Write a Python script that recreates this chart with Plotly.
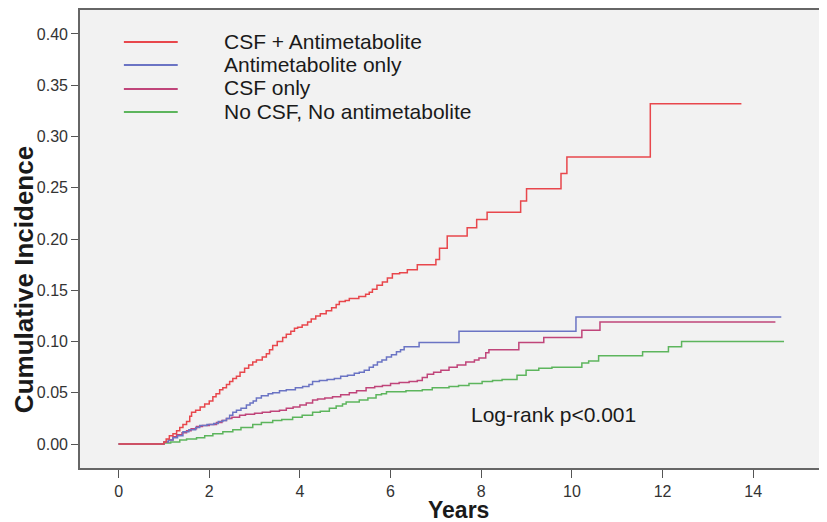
import plotly.graph_objects as go

# ---- data ----
series_names = ["CSF + Antimetabolite", "Antimetabolite only", "CSF only", "No CSF, No antimetabolite"]

red_t = [0, 1.0, 1.05, 1.12, 1.2, 1.28, 1.35, 1.42, 1.5, 1.57, 1.61, 1.7, 1.8, 1.9, 2.0, 2.08, 2.15, 2.23,
         2.3, 2.38, 2.45, 2.52, 2.6, 2.68, 2.78, 2.87, 2.96, 3.04, 3.17, 3.26, 3.33, 3.4, 3.5, 3.62, 3.7,
         3.8, 3.88, 3.95, 4.05, 4.17, 4.25, 4.35, 4.45, 4.58, 4.7, 4.8, 4.87, 5.0, 5.09, 5.3, 5.45, 5.53,
         5.6, 5.7, 5.82, 5.93, 6.04, 6.2, 6.37, 6.59, 7.0, 7.08, 7.25, 7.69, 7.9, 8.13, 8.87, 9.0, 9.76,
         9.89, 11.73, 13.74]
red_v = [0, 0.002, 0.005, 0.008, 0.010, 0.013, 0.016, 0.019, 0.022, 0.027, 0.031, 0.033, 0.036, 0.039,
         0.042, 0.046, 0.049, 0.053, 0.055, 0.058, 0.061, 0.064, 0.066, 0.070, 0.074, 0.077, 0.080, 0.082,
         0.085, 0.088, 0.092, 0.096, 0.100, 0.104, 0.107, 0.110, 0.113, 0.114, 0.116, 0.119, 0.122, 0.125,
         0.127, 0.130, 0.133, 0.136, 0.139, 0.140, 0.142, 0.144, 0.146, 0.148, 0.151, 0.155, 0.158, 0.162,
         0.166, 0.167, 0.170, 0.175, 0.180, 0.191, 0.203, 0.211, 0.219, 0.226, 0.237, 0.249, 0.264, 0.280,
         0.332, 0.332]

blue_t = [0, 1.0, 1.1, 1.2, 1.3, 1.42, 1.55, 1.7, 1.79, 1.95, 2.1, 2.2, 2.3, 2.38, 2.45, 2.52, 2.6, 2.7,
          2.82, 2.9, 2.97, 3.04, 3.15, 3.3, 3.4, 3.55, 3.7, 3.9, 4.06, 4.2, 4.28, 4.43, 4.6, 4.76, 4.9, 5.05,
          5.2, 5.31, 5.42, 5.53, 5.62, 5.71, 5.81, 5.91, 6.02, 6.13, 6.22, 6.3, 6.63, 7.51, 10.09, 14.62]
blue_v = [0, 0.002, 0.004, 0.006, 0.008, 0.012, 0.014, 0.016, 0.018, 0.019, 0.020, 0.022, 0.023, 0.025,
          0.028, 0.031, 0.033, 0.035, 0.038, 0.040, 0.042, 0.045, 0.047, 0.049, 0.050, 0.052, 0.053, 0.055,
          0.056, 0.058, 0.061, 0.062, 0.063, 0.064, 0.066, 0.067, 0.069, 0.070, 0.072, 0.075, 0.077, 0.080,
          0.082, 0.085, 0.087, 0.090, 0.092, 0.095, 0.099, 0.110, 0.124, 0.124]

purple_t = [0, 1.0, 1.1, 1.2, 1.28, 1.4, 1.5, 1.6, 1.72, 1.85, 2.0, 2.16, 2.28, 2.38, 2.5, 2.67, 2.8, 3.0,
            3.17, 3.35, 3.55, 3.7, 3.85, 4.0, 4.14, 4.28, 4.39, 4.55, 4.72, 4.9, 5.09, 5.25, 5.46, 5.65,
            5.82, 6.0, 6.19, 6.41, 6.59, 6.7, 6.81, 6.95, 7.11, 7.29, 7.47, 7.66, 7.85, 7.95, 8.1, 8.17,
            8.83, 9.38, 10.22, 10.62, 14.49]
purple_v = [0, 0.002, 0.004, 0.007, 0.009, 0.011, 0.013, 0.015, 0.017, 0.018, 0.019, 0.021, 0.023, 0.025,
            0.026, 0.028, 0.029, 0.030, 0.031, 0.032, 0.033, 0.035, 0.036, 0.038, 0.040, 0.043, 0.044,
            0.045, 0.046, 0.048, 0.050, 0.052, 0.055, 0.056, 0.057, 0.059, 0.060, 0.061, 0.062, 0.065,
            0.068, 0.070, 0.072, 0.075, 0.077, 0.080, 0.082, 0.084, 0.089, 0.092, 0.099, 0.104, 0.111,
            0.119, 0.119]

green_t = [0, 1.0, 1.15, 1.35, 1.5, 1.72, 1.9, 2.08, 2.3, 2.52, 2.7, 2.96, 3.15, 3.4, 3.6, 3.84, 4.05,
           4.28, 4.45, 4.65, 4.8, 4.94, 5.02, 5.31, 5.5, 5.68, 5.8, 5.91, 6.34, 6.7, 6.92, 7.29, 7.5, 7.73,
           8.02, 8.25, 8.46, 8.79, 8.99, 9.27, 9.56, 10.22, 10.37, 10.59, 11.56, 12.13, 12.42, 14.68]
green_v = [0, 0.001, 0.002, 0.004, 0.005, 0.006, 0.008, 0.010, 0.012, 0.014, 0.016, 0.019, 0.021, 0.023,
           0.024, 0.026, 0.028, 0.031, 0.032, 0.035, 0.037, 0.039, 0.041, 0.043, 0.045, 0.048, 0.049,
           0.051, 0.052, 0.053, 0.055, 0.056, 0.057, 0.059, 0.061, 0.062, 0.063, 0.067, 0.072, 0.074,
           0.075, 0.079, 0.081, 0.086, 0.090, 0.095, 0.100, 0.100]

x_ticks = [0, 2, 4, 6, 8, 10, 12, 14]
y_ticks = [0.00, 0.05, 0.10, 0.15, 0.20, 0.25, 0.30, 0.35, 0.40]
annotation_text = "Log-rank p<0.001"

# ---- figure ----
colors = ["#e8474c", "#6b74c4", "#c0457a", "#5db55d"]
series = [(red_t, red_v), (blue_t, blue_v), (purple_t, purple_v), (green_t, green_v)]

fig = go.Figure()
# draw green first, red last (on top)
for i in [3, 2, 1, 0]:
    t, v = series[i]
    fig.add_trace(go.Scatter(x=t, y=v, mode="lines", line=dict(color=colors[i], width=1.5, shape="hv"),
                             name=series_names[i], showlegend=False, hoverinfo="skip"))

OFF = 8  # page body margin
W, H = 827 - OFF, 522 - OFF
L, R, T, B = 80 - OFF, 0, 10 - OFF, 522 - 468
pw, ph = W - L - R, H - T - B

def px(xp):  # page pixel -> paper x
    return (xp - OFF - L) / pw

def py(yp):  # page pixel -> paper y
    return (H - B - (yp - OFF)) / ph

FONT = "Liberation Sans, Arial, Helvetica, sans-serif"

# custom legend
leg_y = [42, 65, 89, 112]
shapes = []
annotations = []
for i in range(4):
    shapes.append(dict(type="line", xref="paper", yref="paper", x0=px(124), x1=px(178),
                       y0=py(leg_y[i]), y1=py(leg_y[i]), line=dict(color=colors[i], width=1.8)))
    annotations.append(dict(xref="paper", yref="paper", x=px(222), y=py(leg_y[i] - 1), text=series_names[i],
                            showarrow=False, xanchor="left", yanchor="middle",
                            font=dict(family=FONT, size=21, color="#1a1a1a")))

annotations.append(dict(xref="paper", yref="paper", x=px(470), y=py(414), text=annotation_text,
                        showarrow=False, xanchor="left", yanchor="middle",
                        font=dict(family=FONT, size=21, color="#1a1a1a")))
annotations.append(dict(xref="paper", yref="paper", x=px(24), y=py(280), text="<b>Cumulative Incidence</b>",
                        showarrow=False, textangle=-90, xanchor="center", yanchor="middle",
                        font=dict(family=FONT, size=26, color="#1a1a1a")))
annotations.append(dict(xref="paper", yref="paper", x=px(460), y=py(510), text="<b>Years</b>",
                        showarrow=False, xanchor="center", yanchor="middle",
                        font=dict(family=FONT, size=23, color="#1a1a1a")))

fig.update_layout(
    width=W, height=H,
    margin=dict(l=L, r=R, t=T, b=B, pad=0),
    paper_bgcolor="white",
    plot_bgcolor="#f2f2f2",
    shapes=shapes,
    annotations=annotations,
    showlegend=False,
    xaxis=dict(range=[-0.851, 15.584], tickvals=x_ticks, ticktext=[str(t) for t in x_ticks],
               ticks="outside", ticklen=8, tickcolor="#555", tickwidth=1.3,
               showgrid=False, zeroline=False, showline=True, linecolor="#666", linewidth=1.6, mirror=True,
               tickfont=dict(family=FONT, size=16, color="#333")),
    yaxis=dict(range=[-0.0234, 0.4234], tickvals=y_ticks, ticktext=["%.2f" % v for v in y_ticks],
               ticks="outside", ticklen=7, tickcolor="#555", tickwidth=1.3,
               showgrid=False, zeroline=False, showline=True, linecolor="#666", linewidth=1.6, mirror=True,
               tickfont=dict(family=FONT, size=16, color="#333")),
)

fig.write_html("out.html")
